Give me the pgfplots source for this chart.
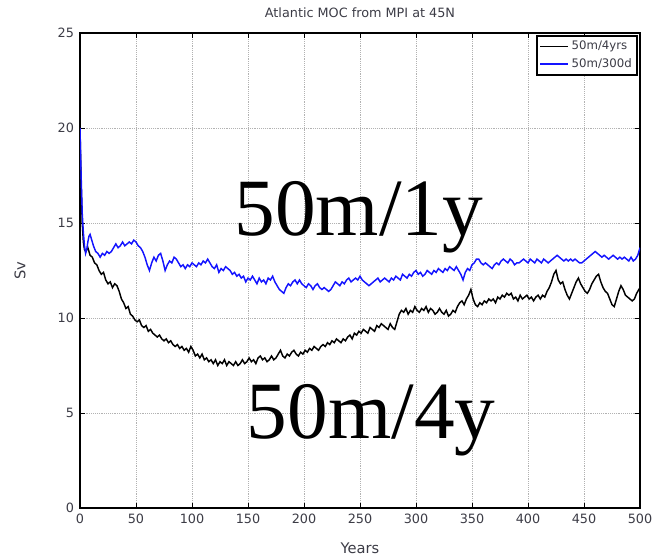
\documentclass[border=0pt]{standalone}
\usepackage{pgfplots}
\pgfplotsset{compat=1.18}
\usepackage{fontspec}
\setmainfont{DejaVu Sans}
\newfontfamily\timesfont{Liberation Serif}
\definecolor{mblue}{RGB}{20,20,255}
\definecolor{tgray}{RGB}{60,60,70}
\begin{document}
\begin{tikzpicture}
\begin{axis}[
  name=ax,
  scale only axis,
  width=420pt, height=356.25pt,
  xmin=0, xmax=500, ymin=0, ymax=25,
  xtick={0,50,...,500}, ytick={0,5,...,25},
  grid=major,
  major grid style={densely dotted, gray!60, line width=0.5pt},
  tick align=inside,
  tick style={black, line width=0.6pt},
  major tick length=4pt,
  axis line style={black, line width=1.3pt},
  /pgf/number format/assume math mode=true,
  tick label style={font=\fontsize{9.6}{11}\selectfont, text=tgray},
  xticklabel style={yshift=-1pt},
  yticklabel style={xshift=-1pt},
  title={Atlantic MOC from MPI at 45N},
  every axis title shift=0pt,
  title style={font=\fontsize{9.6}{11}\selectfont, text=tgray, at={(0.5,1)}, anchor=center, yshift=15.5pt},
  xlabel={Years},
  ylabel={Sv},
  xlabel style={font=\fontsize{11}{12}\selectfont, text=tgray, at={(0.5,0)}, anchor=center, yshift=-30pt},
  ylabel style={font=\fontsize{11}{12}\selectfont, text=tgray, at={(0,0.5)}, anchor=center, yshift=45pt},
  legend style={at={(1,1)}, anchor=north east, xshift=-1.5pt, yshift=-1.5pt,
    draw=black, line width=1.3pt, font=\fontsize{8.8}{10}\selectfont, text=tgray,
    inner sep=2pt, row sep=1pt, cells={anchor=west}},
  legend image code/.code={\draw[#1, line width=1pt] (0cm,0cm) -- (21pt,0cm);},
  clip=true,
]
\addplot[black, line width=1.1pt] coordinates {
(0,20.0)(1,17.0)(2,15.0)(3,14.0)(4,13.6)(5,13.5)(7,13.7)(9,13.3)(11,13.2)(13,12.9)(15,12.8)(17,12.5)(19,12.3)(21,12.4)(23,12.0)(25,11.8)(27,11.9)(29,11.6)(31,11.8)(33,11.7)(35,11.4)(37,11.0)(39,10.8)(41,10.5)(43,10.6)(45,10.2)(47,10.1)(49,9.9)
(51,9.8)(53,9.9)(55,9.6)(57,9.5)(59,9.6)(61,9.3)(63,9.4)(65,9.2)(67,9.1)(69,9.0)(71,9.1)(73,8.9)(75,8.8)(77,8.9)(79,8.7)(81,8.8)(83,8.6)(85,8.5)(87,8.6)(89,8.4)(91,8.5)(93,8.3)(95,8.4)(97,8.2)(99,8.5)
(101,8.3)(103,8.0)(105,8.1)(107,7.9)(109,8.1)(111,7.8)(113,7.9)(115,7.7)(117,7.8)(119,7.6)(121,7.8)(123,7.5)(125,7.7)(127,7.6)(129,7.8)(131,7.5)(133,7.7)(135,7.6)(137,7.5)(139,7.7)(141,7.5)(143,7.6)(145,7.8)(147,7.6)(149,7.7)
(151,7.9)(153,7.7)(155,7.8)(157,7.6)(159,7.9)(161,8.0)(163,7.8)(165,7.9)(167,7.7)(169,7.8)(171,8.0)(173,7.8)(175,7.9)(177,8.1)(179,8.3)(181,8.0)(183,7.9)(185,8.1)(187,8.0)(189,8.2)(191,8.3)(193,8.1)(195,8.0)(197,8.2)(199,8.1)
(201,8.3)(203,8.2)(205,8.4)(207,8.3)(209,8.5)(211,8.4)(213,8.3)(215,8.5)(217,8.6)(219,8.5)(221,8.7)(223,8.6)(225,8.8)(227,8.7)(229,8.9)(231,8.8)(233,8.7)(235,8.9)(237,8.8)(239,9.0)(241,9.1)(243,8.9)(245,9.2)(247,9.1)(249,9.3)
(251,9.2)(253,9.4)(255,9.3)(257,9.2)(259,9.5)(261,9.4)(263,9.3)(265,9.6)(267,9.5)(269,9.7)(271,9.6)(273,9.5)(275,9.4)(277,9.7)(279,9.5)(281,9.4)(283,9.8)(285,10.2)(287,10.4)(289,10.3)(291,10.5)(293,10.2)(295,10.4)(297,10.3)(299,10.6)
(301,10.4)(303,10.3)(305,10.5)(307,10.4)(309,10.6)(311,10.3)(313,10.5)(315,10.4)(317,10.2)(319,10.3)(321,10.5)(323,10.3)(325,10.2)(327,10.4)(329,10.1)(331,10.2)(333,10.4)(335,10.3)(337,10.6)(339,10.8)(341,10.9)(343,10.7)(345,11.0)(347,11.2)(349,11.5)
(351,11.0)(353,10.7)(355,10.6)(357,10.8)(359,10.7)(361,10.9)(363,10.8)(365,11.0)(367,10.9)(369,11.0)(371,10.8)(373,11.1)(375,11.0)(377,11.2)(379,11.1)(381,11.3)(383,11.2)(385,11.3)(387,11.0)(389,11.1)(391,10.9)(393,11.2)(395,11.0)(397,11.1)(399,11.2)
(401,11.0)(403,11.1)(405,10.9)(407,11.1)(409,11.2)(411,11.0)(413,11.2)(415,11.1)(417,11.4)(419,11.6)(421,11.9)(423,12.3)(425,12.5)(427,12.0)(429,11.8)(431,11.9)(433,11.5)(435,11.2)(437,11.0)(439,11.3)(441,11.6)(443,11.9)(445,12.1)(447,11.8)(449,11.6)
(451,11.4)(453,11.3)(455,11.5)(457,11.8)(459,12.0)(461,12.2)(463,12.3)(465,11.9)(467,11.6)(469,11.4)(471,11.3)(473,11.0)(475,10.7)(477,10.6)(479,11.0)(481,11.4)(483,11.7)(485,11.5)(487,11.2)(489,11.1)(491,11.0)(493,10.9)(495,11.0)(497,11.3)(499,11.5)(500,11.4)
};
\addlegendentry{50m/4yrs}
\addplot[mblue, line width=1.1pt] coordinates {
(0,20.0)(1,17.5)(2,15.5)(3,14.5)(4,13.8)(5,13.4)(6,13.6)(7,14.0)(8,14.3)(9,14.4)(10,14.2)(12,13.8)(14,13.5)(16,13.4)(18,13.2)(20,13.4)(22,13.3)(24,13.5)(26,13.4)(28,13.5)(30,13.7)(32,13.9)(34,13.7)(36,13.8)(38,14.0)(40,13.8)(42,13.9)(44,14.0)(46,13.9)(48,14.1)
(50,14.0)(52,13.8)(54,13.7)(56,13.5)(58,13.2)(60,12.8)(62,12.5)(64,12.9)(66,13.2)(68,13.0)(70,13.3)(72,13.4)(74,13.0)(76,12.5)(78,12.8)(80,13.0)(82,12.9)(84,13.2)(86,13.1)(88,12.9)(90,12.7)(92,12.8)(94,12.6)(96,12.8)(98,12.7)
(100,12.9)(102,12.8)(104,12.7)(106,12.9)(108,12.8)(110,13.0)(112,12.9)(114,13.1)(116,12.9)(118,12.7)(120,12.6)(122,12.8)(124,12.4)(126,12.6)(128,12.5)(130,12.7)(132,12.6)(134,12.5)(136,12.3)(138,12.4)(140,12.2)(142,12.3)(144,12.1)(146,12.2)(148,11.9)
(150,12.1)(152,12.0)(154,12.2)(156,12.0)(158,11.8)(160,12.1)(162,11.9)(164,12.0)(166,11.8)(168,12.1)(170,12.0)(172,12.2)(174,11.9)(176,11.7)(178,11.5)(180,11.4)(182,11.3)(184,11.6)(186,11.8)(188,11.7)(190,11.9)(192,12.0)(194,11.8)(196,12.0)(198,11.8)
(200,11.7)(202,11.6)(204,11.8)(206,11.7)(208,11.5)(210,11.7)(212,11.8)(214,11.6)(216,11.5)(218,11.6)(220,11.5)(222,11.4)(224,11.5)(226,11.7)(228,11.9)(230,11.8)(232,11.7)(234,11.9)(236,11.8)(238,12.0)(240,12.1)(242,11.9)(244,12.0)(246,12.1)(248,12.0)
(250,12.2)(252,12.0)(254,11.9)(256,11.8)(258,11.7)(260,11.8)(262,11.9)(264,12.0)(266,12.1)(268,11.9)(270,12.0)(272,12.1)(274,12.0)(276,11.9)(278,12.1)(280,12.0)(282,12.2)(284,12.1)(286,12.0)(288,12.3)(290,12.2)(292,12.1)(294,12.3)(296,12.2)(298,12.4)
(300,12.5)(302,12.3)(304,12.4)(306,12.2)(308,12.3)(310,12.5)(312,12.4)(314,12.3)(316,12.5)(318,12.4)(320,12.6)(322,12.5)(324,12.4)(326,12.6)(328,12.5)(330,12.7)(332,12.6)(334,12.5)(336,12.7)(338,12.5)(340,12.3)(342,12.0)(344,12.4)(346,12.6)(348,12.5)
(350,12.8)(352,12.9)(354,13.1)(356,13.1)(358,12.9)(360,12.8)(362,12.9)(364,12.8)(366,12.7)(368,12.6)(370,12.8)(372,12.9)(374,12.8)(376,13.0)(378,13.1)(380,13.0)(382,12.9)(384,13.1)(386,13.0)(388,12.8)(390,12.9)(392,12.9)(394,13.0)(396,13.1)(398,13.0)
(400,12.9)(402,13.1)(404,13.0)(406,12.9)(408,13.1)(410,13.0)(412,12.9)(414,13.1)(416,13.0)(418,12.9)(420,13.0)(422,13.1)(424,13.2)(426,13.3)(428,13.2)(430,13.1)(432,13.0)(434,13.1)(436,13.0)(438,13.1)(440,13.0)(442,13.1)(444,13.0)(446,12.9)(448,12.9)
(450,13.0)(452,13.1)(454,13.2)(456,13.3)(458,13.4)(460,13.5)(462,13.4)(464,13.3)(466,13.2)(468,13.3)(470,13.2)(472,13.1)(474,13.2)(476,13.3)(478,13.2)(480,13.1)(482,13.2)(484,13.1)(486,13.2)(488,13.1)(490,13.0)(492,13.2)(494,13.0)(496,13.1)(498,13.3)(500,13.7)
};
\addlegendentry{50m/300d}
\node[anchor=base, font=\timesfont\fontsize{61}{61}\selectfont, inner sep=0pt] at (axis cs:249,14.35) {50m/1y};
\node[anchor=base, font=\timesfont\fontsize{61}{61}\selectfont, inner sep=0pt] at (axis cs:260,3.65) {50m/4y};
\end{axis}
\pgfresetboundingbox
\useasboundingbox ([xshift=-60pt,yshift=-37.5pt]ax.south west) rectangle ([xshift=9pt,yshift=24.75pt]ax.north east);
\end{tikzpicture}
\end{document}
